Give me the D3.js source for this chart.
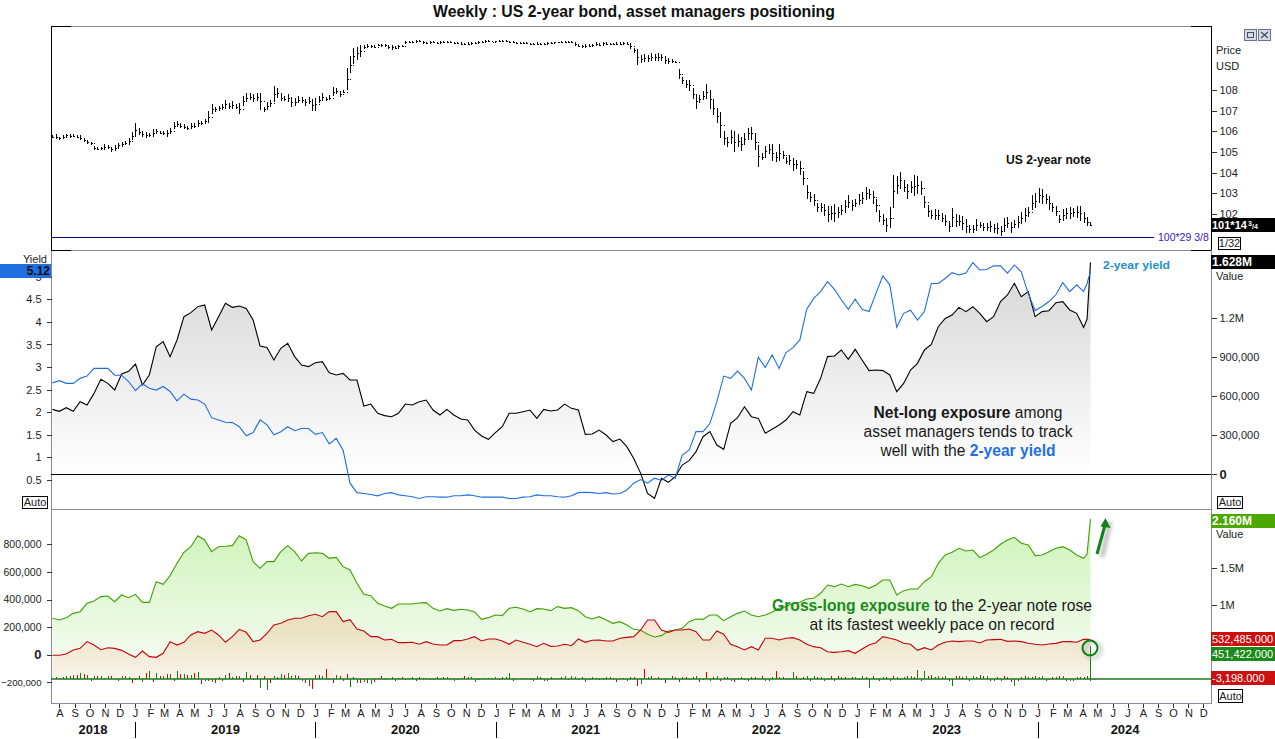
<!DOCTYPE html>
<html><head><meta charset="utf-8">
<script src="https://cdn.jsdelivr.net/npm/d3@7"></script>
<style>
html,body{margin:0;padding:0;background:#fff;overflow:hidden}
svg{display:block}
text{font-family:"Liberation Sans",Arial,sans-serif}
</style></head><body><svg id="c" width="1275" height="739"></svg>
<script>
// ---------- DATA ----------
const titleText = "Weekly : US 2-year bond, asset managers positioning";
const firstWeek = new Date(2018, 6, 18);
const monthLetters = ["J","F","M","A","M","J","J","A","S","O","N","D"];
const yearLabels = [[2018,"2018-10-08"],[2019,"2019-07-03"],[2020,"2020-07-01"],[2021,"2021-07-01"],[2022,"2022-07-01"],[2023,"2023-07-01"],[2024,"2024-06-26"]];
const priceTicks = [102,103,104,105,106,107,108];
const yieldTicks = [0.5,1,1.5,2,2.5,3,3.5,4,4.5,5];
const netTicks = [0,300,600,900,1200];
const leftBottomTicks = [-200,0,200,400,600,800];
const rightBottomTicks = [1000,1500];

// weekly high/low of the 2-year note, week 0..300
const priceHigh = [
105.82,105.85,105.75,105.8,105.88,105.85,105.86,105.82,105.8,105.65,
105.55,105.5,105.3,105.22,105.25,105.38,105.35,105.25,105.35,105.45,
105.5,105.55,105.7,105.95,106.4,106.15,106.0,105.95,105.9,106.1,
106.1,106.0,106.0,106.05,106.15,106.45,106.5,106.4,106.35,106.25,
106.4,106.4,106.55,106.5,106.6,107.0,107.3,107.2,107.25,107.3,
107.5,107.35,107.45,107.3,107.35,107.7,107.85,107.85,107.8,107.85,
107.85,107.2,107.4,107.5,108.2,108.1,107.8,107.7,107.8,107.65,
107.6,107.7,107.65,107.55,107.65,107.55,107.6,107.7,107.85,107.65,
107.75,108.15,108.1,107.95,108.0,109.05,109.65,110.05,110.1,110.2,
110.2,110.22,110.2,110.18,110.25,110.25,110.22,110.2,110.2,110.12,
110.18,110.2,110.38,110.38,110.38,110.42,110.43,110.35,110.3,110.35,
110.35,110.33,110.38,110.35,110.38,110.38,110.33,110.32,110.3,110.28,
110.3,110.33,110.3,110.35,110.38,110.4,110.42,110.38,110.38,110.4,
110.4,110.4,110.38,110.35,110.32,110.32,110.33,110.3,110.27,110.28,
110.3,110.28,110.28,110.3,110.32,110.33,110.33,110.36,110.37,110.38,
110.38,110.3,110.2,110.2,110.22,110.22,110.24,110.3,110.28,110.33,
110.3,110.26,110.26,110.3,110.3,110.3,110.3,110.26,110.05,110.0,
109.7,109.75,109.7,109.8,109.75,109.8,109.75,109.65,109.55,109.5,
109.42,109.0,108.65,108.45,108.5,108.1,107.8,107.75,107.95,108.29,
108.0,107.5,107.1,106.95,106.0,105.75,106.05,106.0,105.85,105.75,
105.9,106.15,106.2,105.9,105.35,104.95,105.3,105.4,105.4,105.0,
105.4,105.05,104.75,104.85,104.7,104.6,104.55,104.1,103.4,103.05,
102.95,102.55,102.55,102.5,102.4,102.4,102.5,102.35,102.45,102.7,
102.9,102.7,102.75,102.95,103.05,103.3,103.2,103.1,102.75,102.2,
102.0,101.8,102.35,103.9,103.85,104.05,103.6,103.45,103.6,103.9,
103.85,103.6,102.85,102.45,102.2,102.25,102.2,102.05,101.95,101.65,
102.3,102.0,101.95,101.9,101.75,101.45,101.45,101.75,101.6,101.55,
101.55,101.65,101.5,101.55,101.4,101.8,101.85,101.6,101.7,101.9,
102.1,102.3,102.35,102.9,103.0,103.25,103.2,102.95,102.85,102.55,
102.4,101.95,102.25,102.3,102.35,102.3,102.4,102.4,102.1,101.85,101.55];
const priceLow = [
105.68,105.62,105.6,105.7,105.72,105.7,105.72,105.68,105.58,105.5,
105.4,105.35,105.1,105.1,105.1,105.1,105.15,105.0,105.05,105.2,
105.25,105.35,105.35,105.6,105.75,105.8,105.75,105.7,105.72,105.75,
105.9,105.85,105.8,105.75,105.9,106.1,106.25,106.15,106.1,106.05,
106.1,106.15,106.25,106.3,106.4,106.4,106.85,106.95,107.0,107.05,
107.1,107.1,107.1,107.1,106.85,107.25,107.4,107.5,107.4,107.45,
107.05,106.95,107.05,107.25,107.4,107.6,107.45,107.45,107.4,107.2,
107.25,107.35,107.35,107.25,107.3,107.0,107.0,107.35,107.45,107.45,
107.5,107.7,107.8,107.65,107.85,108.0,108.8,109.25,109.45,109.6,
110.0,110.05,110.05,110.02,110.12,110.1,110.1,110.0,109.95,109.98,
110.05,110.08,110.22,110.28,110.3,110.32,110.3,110.25,110.22,110.28,
110.26,110.24,110.28,110.28,110.28,110.26,110.25,110.24,110.2,110.18,
110.2,110.22,110.24,110.26,110.3,110.32,110.33,110.3,110.32,110.32,
110.33,110.32,110.28,110.28,110.24,110.24,110.22,110.22,110.18,110.18,
110.2,110.2,110.22,110.24,110.26,110.27,110.28,110.3,110.3,110.3,
110.28,110.12,110.08,110.05,110.05,110.08,110.12,110.16,110.12,110.2,
110.18,110.16,110.18,110.2,110.2,110.22,110.18,110.0,109.8,109.2,
109.3,109.35,109.35,109.4,109.4,109.4,109.4,109.25,109.25,109.3,
109.3,108.55,108.3,108.1,107.95,107.55,107.1,107.35,107.5,107.55,
107.1,106.8,106.4,105.7,105.35,105.25,105.4,105.0,105.25,105.05,
105.35,105.65,105.6,105.1,104.27,104.6,104.75,104.9,104.55,104.5,
104.55,104.65,104.4,104.35,104.1,104.2,103.9,103.4,102.75,102.6,
102.4,102.1,102.1,101.9,101.6,101.7,101.6,101.8,101.95,102.05,
102.3,102.15,102.35,102.45,102.5,102.7,102.75,102.5,102.1,101.6,
101.45,101.15,101.3,102.3,102.95,103.2,103.05,102.75,103.0,102.85,
102.95,102.9,102.3,101.85,101.75,101.7,101.7,101.6,101.4,101.15,
101.4,101.35,101.4,101.25,101.1,101.1,101.1,101.2,101.3,101.2,
101.2,101.15,101.1,101.05,100.92,101.15,101.3,101.1,101.3,101.3,
101.5,101.6,101.85,102.2,102.3,102.55,102.5,102.5,102.2,102.1,
101.9,101.55,101.65,101.75,101.75,101.85,101.8,101.65,101.55,101.42,101.4];

// line series, every second week 0..298 then weeks 299 and 300 (thousands of contracts / %)
const netLong = [
497,482,510,482,556,531,620,728,697,646,
769,790,846,685,762,979,1018,903,1031,1210,
1241,1287,1300,1108,1210,1313,1282,1292,1274,1185,
985,974,877,967,1005,903,838,826,856,864,
779,762,774,723,723,523,538,467,449,441,
467,538,531,556,569,492,454,497,454,423,
415,338,292,267,318,364,467,467,479,492,
428,497,485,492,538,505,492,305,308,338,
300,249,269,210,120,5,-149,-187,-33,-64,
-21,69,103,172,287,326,223,190,390,433,
518,441,428,313,344,377,415,479,454,633,
620,736,903,908,954,882,959,877,795,800,
795,762,633,697,800,851,954,997,1133,1197,
1223,1282,1249,1287,1236,1172,1210,1326,1377,1467,
1364,1403,1210,1249,1256,1318,1326,1262,1236,1128,
1190,1628];
const yield2y = [
2.65,2.70,2.64,2.64,2.75,2.80,2.97,2.97,2.97,2.82,
2.82,2.68,2.48,2.63,2.53,2.49,2.57,2.46,2.25,2.40,
2.29,2.27,2.18,1.88,1.83,1.78,1.77,1.68,1.48,1.55,
1.83,1.72,1.50,1.57,1.68,1.59,1.64,1.64,1.51,1.55,
1.30,1.42,1.16,.43,.22,.20,.18,.15,.20,.22,
.17,.15,.13,.09,.13,.13,.12,.12,.15,.15,
.17,.15,.12,.12,.12,.12,.09,.09,.12,.13,
.17,.15,.15,.13,.12,.15,.22,.23,.22,.20,
.22,.19,.20,.28,.43,.51,.43,.54,.49,.61,
.54,1.05,1.16,1.57,1.57,1.75,2.23,2.80,2.75,2.91,
2.75,2.49,3.22,2.99,3.27,2.97,3.32,3.43,3.60,4.28,
4.52,4.67,4.89,4.72,4.49,4.28,4.50,4.28,4.23,4.63,
5.02,4.82,3.88,4.19,4.26,4.04,4.23,4.85,4.85,4.96,
5.09,5.04,5.08,5.31,5.15,5.16,5.24,5.24,5.08,5.26,
5.11,4.63,4.25,4.34,4.45,4.60,4.87,4.67,4.82,4.67,
4.85,5.12];
const grossLong = [
820,797,829,887,910,1023,1054,1113,1122,1045,
1135,1099,1144,1036,1036,1315,1279,1397,1563,1712,
1788,1937,1879,1721,1788,1793,1802,1937,1879,1586,
1496,1586,1586,1721,1802,1721,1595,1698,1707,1698,
1631,1644,1518,1473,1293,1144,1126,1023,987,955,
1014,1014,1014,1027,1032,955,919,951,928,942,
933,906,806,829,865,856,955,969,946,910,
951,946,924,978,955,964,924,842,811,842,
797,752,775,730,671,658,604,568,586,649,
662,685,775,811,806,865,865,788,842,887,
919,865,842,865,901,955,978,1023,1036,1081,
1090,1158,1270,1248,1284,1248,1279,1261,1225,1270,
1338,1338,1135,1194,1216,1216,1315,1379,1563,1676,
1712,1766,1730,1743,1640,1685,1743,1820,1879,1915,
1834,1811,1667,1676,1721,1766,1788,1743,1676,1631,
1685,2160];
const grossShort = [
320,320,338,392,414,505,459,396,423,414,
387,338,293,378,302,293,347,505,459,496,
595,640,617,662,595,496,572,671,631,505,
527,617,730,752,797,820,820,856,874,842,
910,910,775,802,676,649,572,572,527,536,
491,491,496,469,505,473,459,459,518,518,
541,572,514,541,541,514,469,527,496,469,
437,482,441,446,469,450,541,496,523,527,
514,514,550,563,572,662,797,797,662,631,
662,662,676,640,527,527,649,604,469,437,
392,437,392,550,550,527,550,559,527,469,
437,423,369,360,369,383,347,405,459,491,
572,550,527,482,469,387,423,392,459,496,
514,505,514,514,487,527,532,536,509,514,
505,482,469,459,473,482,505,505,496,536,
536,532];
// weekly-change histogram: green on even weeks, red on odd weeks
const changeGreen = [15,20,40,50,85,60,45,40,35,-20,45,30,-15,-45,110,85,45,70,110,65,60,95,-30,-40,30,60,25,45,90,-20,-120,-150,40,70,85,60,-30,-100,50,40,-15,55,-25,-110,-60,-35,-70,20,-10,25,15,-20,30,25,10,-20,15,25,-25,15,25,-35,20,15,25,30,85,20,15,-15,40,-25,30,20,45,35,-20,-35,25,-15,30,20,15,-30,25,-70,25,15,-20,20,30,25,-15,40,-15,-30,40,30,-25,20,-20,25,20,-25,25,30,15,95,-20,40,35,30,-15,-25,25,20,30,35,-120,20,30,-25,25,30,40,120,110,60,45,35,-100,40,35,35,55,35,-25,-30,30,-90,25,30,35,45,-20,30,35,-25,30,25,-30];
const changeRed = [30,25,40,55,70,-30,40,20,35,-30,45,-60,35,80,-40,40,65,-25,70,60,75,-70,-30,-50,-25,80,35,-40,60,50,40,-60,30,50,45,35,-50,-130,55,130,-60,40,65,30,-50,-60,-40,45,20,-30,30,20,-25,20,-15,30,25,20,-20,35,25,-20,15,20,-15,25,-30,20,15,-25,25,-25,15,30,-20,25,30,-15,20,15,30,-35,20,25,-90,130,40,30,-50,35,-40,25,30,-35,100,30,-25,30,-40,25,-30,30,35,-25,110,30,-20,40,25,-30,30,-25,35,40,30,25,-20,30,35,-25,30,40,-20,45,30,-25,35,30,25,-30,40,25,-30,25,35,-25,30,35,-40,-30,40,30,25,-25,30,35,-25,-30,30,40,-20];
const latestLongChange = 451.422;

// ---------- SCALES ----------
const svg = d3.select("#c");
const defs = svg.append("defs");
const L = 51, R = 1211;
const x = d3.scaleTime().domain([new Date(2019,0,1), new Date(2024,0,1)]).range([135, 1037.6]);
const lineWeeks = d3.range(0,299,2).concat([299,300]);
const weekDate = i => d3.timeDay.offset(firstWeek, i*7);
const xw = i => x(weekDate(i));
const yPrice = d3.scaleLinear().domain([102,108]).range([214,90]);
const yYield = d3.scaleLinear().domain([0.5,4.5]).range([480,299.3]);
const yNet = d3.scaleLinear().domain([0,1200]).range([474,318]);
const yGross = d3.scaleLinear().domain([0,1000]).range([679,605]);
const yLeftB = d3.scaleLinear().domain([0,800]).range([654.7,544.3]);

function grad(id,y1,y2,stops){
  const g = defs.append("linearGradient").attr("id",id).attr("gradientUnits","userSpaceOnUse")
    .attr("x1",0).attr("x2",0).attr("y1",y1).attr("y2",y2);
  stops.forEach(s=>g.append("stop").attr("offset",s[0]).attr("stop-color",s[1]).attr("stop-opacity",s[2]===undefined?1:s[2]));
}
grad("gNet",295,474,[[0,"#dcdcdc"],[1,"#ffffff"]]);
grad("gLong",530,679,[[0,"#d0f4bc"],[1,"#fafcf8"]]);
grad("gShort",625,679,[[0,"#e8823c",0.2],[1,"#e8823c",0.07]]);
defs.append("clipPath").attr("id","aboveZero").append("rect").attr("x",L).attr("y",251).attr("width",R-L).attr("height",223);
const blur = defs.append("filter").attr("id","soft").attr("x","-50%").attr("y","-50%").attr("width","200%").attr("height","200%");
blur.append("feGaussianBlur").attr("stdDeviation",2);

// ---------- FRAME ----------
const frame = svg.append("g").attr("shape-rendering","crispEdges");
const frameCol = "#8a8a9c";
[26.5,250.5,509.5,703.5].forEach(y=>frame.append("line").attr("x1",L).attr("x2",R).attr("y1",y).attr("y2",y).attr("stroke",frameCol));
frame.append("line").attr("x1",L+.5).attr("x2",L+.5).attr("y1",250).attr("y2",704).attr("stroke",frameCol);
frame.append("line").attr("x1",R+.5).attr("x2",R+.5).attr("y1",250).attr("y2",704).attr("stroke",frameCol);
frame.append("line").attr("x1",L+.5).attr("x2",L+.5).attr("y1",26).attr("y2",250).attr("stroke","#000");
frame.append("line").attr("x1",R+.5).attr("x2",R+.5).attr("y1",26).attr("y2",250).attr("stroke","#000");
[[51,71,26.5],[1191,1211,26.5],[51,71,250.5],[1191,1211,250.5]].forEach(s=>
  frame.append("line").attr("x1",s[0]).attr("x2",s[1]).attr("y1",s[2]).attr("y2",s[2]).attr("stroke","#000"));

// title
svg.append("text").attr("x",634).attr("y",17).attr("text-anchor","middle").attr("font-size",15.8).attr("font-weight","bold").attr("fill","#111").text(titleText);

// ---------- PRICE PANEL ----------
const pg = svg.append("g");
pg.append("line").attr("x1",L).attr("x2",1154).attr("y1",237.5).attr("y2",237.5).attr("stroke","#00007a").attr("shape-rendering","crispEdges");
pg.append("text").attr("x",1158).attr("y",241).attr("font-size",10.5).attr("fill","#3a20c0").text("100*29 3/8");
const bars = pg.append("g").attr("stroke","#000").attr("shape-rendering","crispEdges");
const midOf = i => (priceHigh[i]+priceLow[i])/2;
bars.selectAll("path").data(priceHigh).join("path")
  .attr("fill","none")
  .attr("d",(h,i)=>{
    const bx = Math.round(xw(i))+.5, l = priceLow[i];
    const yh = yPrice(h), yl = Math.max(yPrice(l), yh+1);
    const yc = Math.round(yPrice(midOf(i)))+.5;
    const yo = Math.round(yPrice(midOf(Math.max(i-1,0))))+.5;
    return `M${bx},${yh}V${yl}M${bx-1},${yo}H${bx}M${bx},${yc}H${bx+1.5}`;
  });
axisRight(yPrice, priceTicks, d=>d);
svg.append("text").attr("x",1006).attr("y",164).attr("font-size",11.9).attr("font-weight","bold").attr("font-family","DejaVu Sans").attr("fill","#111").attr("textLength",85).attr("lengthAdjust","spacingAndGlyphs").text("US 2-year note");

function axisRight(scale,ticks,fmt){
  const g = svg.append("g").attr("transform",`translate(${R+.5},0)`)
    .call(d3.axisRight(scale).tickValues(ticks).tickFormat(fmt).tickSize(5).tickPadding(3));
  g.select(".domain").remove();
  g.selectAll("text").attr("font-size",11).attr("fill","#222").attr("font-family","Liberation Sans");
  g.selectAll("line").attr("stroke","#333").attr("shape-rendering","crispEdges");
  return g;
}
function axisLeft(scale,ticks,fmt){
  const g = svg.append("g").attr("transform",`translate(${L+.5},0)`)
    .call(d3.axisLeft(scale).tickValues(ticks).tickFormat(fmt).tickSize(5).tickPadding(5));
  g.select(".domain").remove();
  g.selectAll("text").attr("font-size",10.5).attr("fill","#222").attr("font-family","Liberation Sans");
  g.selectAll("line").attr("stroke","#333").attr("shape-rendering","crispEdges");
  return g;
}

// ---------- NET / YIELD PANEL ----------
const mid = svg.append("g");
mid.append("path").attr("clip-path","url(#aboveZero)").attr("fill","url(#gNet)")
  .attr("d",d3.area().x((d,i)=>xw(lineWeeks[i])).y0(yNet(0)).y1(d=>yNet(d))(netLong));
mid.append("line").attr("x1",L).attr("x2",R).attr("y1",474.5).attr("y2",474.5).attr("stroke","#000").attr("shape-rendering","crispEdges");
mid.append("path").attr("fill","none").attr("stroke","#000").attr("stroke-width",1.1)
  .attr("d",d3.line().x((d,i)=>xw(lineWeeks[i])).y(d=>yNet(d))(netLong));
mid.append("path").attr("fill","none").attr("stroke","#1f6fe0").attr("stroke-width",1.1)
  .attr("d",d3.line().x((d,i)=>xw(lineWeeks[i])).y(d=>yYield(d))(yield2y));
axisLeft(yYield,yieldTicks,d=>d).selectAll("text").attr("font-size",11);
const netAxis = axisRight(yNet,netTicks,d=>d>=1000?d3.format(".1f")(d/1000)+"M":d3.format(",")(d*1000));
netAxis.selectAll("text").filter(d=>d===0).attr("font-weight","bold").attr("font-size",13);
svg.append("text").attr("x",1103).attr("y",269).attr("font-size",11.5).attr("font-weight","bold").attr("font-family","DejaVu Sans").attr("fill","#1e8fc8").attr("textLength",67).attr("lengthAdjust","spacingAndGlyphs").text("2-year yield");

const t1 = svg.append("g").attr("text-anchor","middle").attr("font-size",15.6).attr("fill","#1a1a1a");
const t1a = t1.append("text").attr("x",968).attr("y",418);
t1a.append("tspan").attr("font-weight","bold").text("Net-long exposure");
t1a.append("tspan").text(" among");
t1.append("text").attr("x",968).attr("y",437).text("asset managers tends to track");
const t1c = t1.append("text").attr("x",968).attr("y",456);
t1c.append("tspan").text("well with the ");
t1c.append("tspan").attr("font-weight","bold").attr("fill","#1f6fe0").text("2-year yield");

// ---------- GROSS PANEL ----------
const bot = svg.append("g");
const areaOf = d3.area().x((d,i)=>xw(lineWeeks[i])).y0(yGross(0)).y1(d=>yGross(d));
bot.append("path").attr("fill","url(#gLong)").attr("d",areaOf(grossLong));
bot.append("path").attr("fill","url(#gShort)").attr("d",areaOf(grossShort));
const hist = bot.append("g").attr("shape-rendering","crispEdges").attr("stroke-width",1);
hist.selectAll("line.g").data(changeGreen).join("line").attr("class","g")
  .attr("x1",(d,i)=>Math.round(xw(i*2))+.5).attr("x2",(d,i)=>Math.round(xw(i*2))+.5)
  .attr("y1",yGross(0)).attr("y2",d=>yGross(d)).attr("stroke","#1a7a1a");
hist.selectAll("line.r").data(changeRed).join("line").attr("class","r")
  .attr("x1",(d,i)=>Math.round(xw(i*2+1))+.5).attr("x2",(d,i)=>Math.round(xw(i*2+1))+.5)
  .attr("y1",yGross(0)).attr("y2",d=>yGross(d)).attr("stroke","#e80000");
hist.append("line").attr("x1",Math.round(xw(300))+.5).attr("x2",Math.round(xw(300))+.5)
  .attr("y1",yGross(0)).attr("y2",yGross(latestLongChange)).attr("stroke","#1a7a1a").attr("stroke-width",1.5);
bot.append("line").attr("x1",L).attr("x2",R).attr("y1",679).attr("y2",679).attr("stroke","#1a7a1a").attr("stroke-width",1.5);
bot.append("path").attr("fill","none").attr("stroke","#3fa000").attr("stroke-width",1.1)
  .attr("d",d3.line().x((d,i)=>xw(lineWeeks[i])).y(d=>yGross(d))(grossLong));
bot.append("path").attr("fill","none").attr("stroke","#c4000c").attr("stroke-width",1.1)
  .attr("d",d3.line().x((d,i)=>xw(lineWeeks[i])).y(d=>yGross(d))(grossShort));
const leftB = axisLeft(yLeftB,leftBottomTicks,d=>d3.format(",")(d*1000));
leftB.selectAll("text").filter(d=>d===0).attr("font-weight","bold").attr("font-size",13);
leftB.selectAll("text").filter(d=>d<0).attr("font-size",9.6);
axisRight(yGross,rightBottomTicks,d=>(d/1000)+"M");

const t2 = svg.append("g").attr("text-anchor","middle").attr("font-size",15.7).attr("fill","#1a1a1a");
const t2a = t2.append("text").attr("x",932).attr("y",611);
t2a.append("tspan").attr("font-weight","bold").attr("fill","#1a8a1a").text("Gross-long exposure");
t2a.append("tspan").text(" to the 2-year note rose");
t2.append("text").attr("x",932).attr("y",630).text("at its fastest weekly pace on record");

// arrow + circle with soft shadows
const arrowP = [[1097,554],[1105,519]];
svg.append("path").attr("d",`M${arrowP[0][0]+5},${arrowP[0][1]+3}L${arrowP[1][0]+5},${arrowP[1][1]+3}`).attr("stroke","#999").attr("stroke-width",3).attr("filter","url(#soft)").attr("fill","none");
svg.append("path").attr("d",`M${arrowP[0][0]},${arrowP[0][1]}L${arrowP[1][0]},${arrowP[1][1]+6}`).attr("stroke","#11801a").attr("stroke-width",3).attr("fill","none");
svg.append("path").attr("d",`M${arrowP[1][0]+.5},${arrowP[1][1]-1}l5,10l-10,-1.5z`).attr("fill","#11801a");
svg.append("circle").attr("cx",1093).attr("cy",650).attr("r",8).attr("fill","none").attr("stroke","#aaa").attr("stroke-width",2).attr("filter","url(#soft)");
svg.append("circle").attr("cx",1090).attr("cy",648).attr("r",7.5).attr("fill","none").attr("stroke","#11801a").attr("stroke-width",2);

// ---------- TIME AXIS ----------
const months = d3.timeMonth.range(new Date(2018,7,1), new Date(2025,0,1));
const xAxis = svg.append("g").attr("transform","translate(0,703.5)")
  .call(d3.axisBottom(x).tickValues(months).tickFormat(d=>monthLetters[d.getMonth()]).tickSize(4).tickPadding(2));
xAxis.select(".domain").remove();
xAxis.selectAll("text").attr("font-size",11).attr("fill","#222").attr("font-family","Liberation Sans");
xAxis.selectAll("line").attr("stroke","#333").attr("shape-rendering","crispEdges");
const yearTicks = d3.timeYear.range(new Date(2019,0,1), new Date(2025,0,1));
svg.append("g").attr("shape-rendering","crispEdges").selectAll("line").data(yearTicks).join("line")
  .attr("x1",d=>Math.round(x(d))+.5).attr("x2",d=>Math.round(x(d))+.5).attr("y1",722).attr("y2",738).attr("stroke","#000");
const yearPos = yearLabels.map(d=>[d[0],new Date(d[1])]);
svg.append("g").selectAll("text").data(yearPos).join("text")
  .attr("x",d=>x(d[1])).attr("y",734).attr("text-anchor","middle").attr("font-size",13).attr("font-weight","bold").attr("fill","#111").text(d=>d[0]);

// ---------- SIDE LABELS & BOXES ----------
const side = svg.append("g");
function label(x0,y0,s,opts){opts=opts||{};return side.append("text").attr("x",x0).attr("y",y0).attr("font-size",opts.size||11).attr("fill",opts.fill||"#222").attr("text-anchor",opts.anchor||"start").attr("font-weight",opts.weight||"normal").text(s);}
function box(x0,y0,w,h,fill,s,col,tx,opts){
  side.append("rect").attr("x",x0).attr("y",y0).attr("width",w).attr("height",h).attr("fill",fill).attr("shape-rendering","crispEdges");
  return label(tx,y0+h-3,s,Object.assign({fill:col,size:12,weight:"bold"},opts||{}));
}
function outlined(x0,y0,w,h,s){
  side.append("rect").attr("x",x0+.5).attr("y",y0+.5).attr("width",w).attr("height",h).attr("fill","#fff").attr("stroke","#000").attr("shape-rendering","crispEdges");
  label(x0+w/2+.5,y0+h-2,s,{anchor:"middle",size:11});
}
label(1216,54,"Price"); label(1216,70,"USD");
box(1211,218,64,14,"#000","101*14","#fff",1212,{size:11});
side.append("text").attr("x",1248).attr("y",226).attr("font-size",7).attr("font-weight","bold").attr("fill","#fff").text("3");
side.append("text").attr("x",1252).attr("y",229).attr("font-size",7).attr("font-weight","bold").attr("fill","#fff").text("/4");
outlined(1218,237,22,12,"1/32");
// window buttons
[[1244,"min"],[1258,"close"]].forEach(b=>{
  side.append("rect").attr("x",b[0]+.5).attr("y",29.5).attr("width",12).attr("height",11).attr("fill","#d8dbe4").attr("stroke","#6a7088").attr("shape-rendering","crispEdges");
});
side.append("rect").attr("x",1247.5).attr("y",32.5).attr("width",6).attr("height",5).attr("fill","none").attr("stroke","#44506a").attr("shape-rendering","crispEdges");
side.append("path").attr("d","M1261,32L1268,38M1268,32L1261,38").attr("stroke","#44506a").attr("stroke-width",1.4);

label(47,263,"Yield",{anchor:"end"});
box(0,264,51,14,"#1f6fe0","5.12","#111",50,{anchor:"end"});
outlined(22,496,25,12,"Auto");
box(1211,255,64,14,"#000","1.628M","#fff",1212);
label(1216,280,"Value");
outlined(1217,496,25,12,"Auto");

box(1211,514,64,14,"#4aa800","2.160M","#fff",1212);
label(1216,538,"Value");
box(1211,632,64,14,"#cc1010","532,485.000","#fff",1212,{weight:"normal",size:11});
box(1211,647,64,14,"#1a8a1a","451,422.000","#fff",1212,{weight:"normal",size:11});
box(1211,671,64,14,"#cc1010","-3,198.000","#fff",1212,{weight:"normal",size:11});
outlined(1218,689,24,13,"Auto");
</script></body></html>
